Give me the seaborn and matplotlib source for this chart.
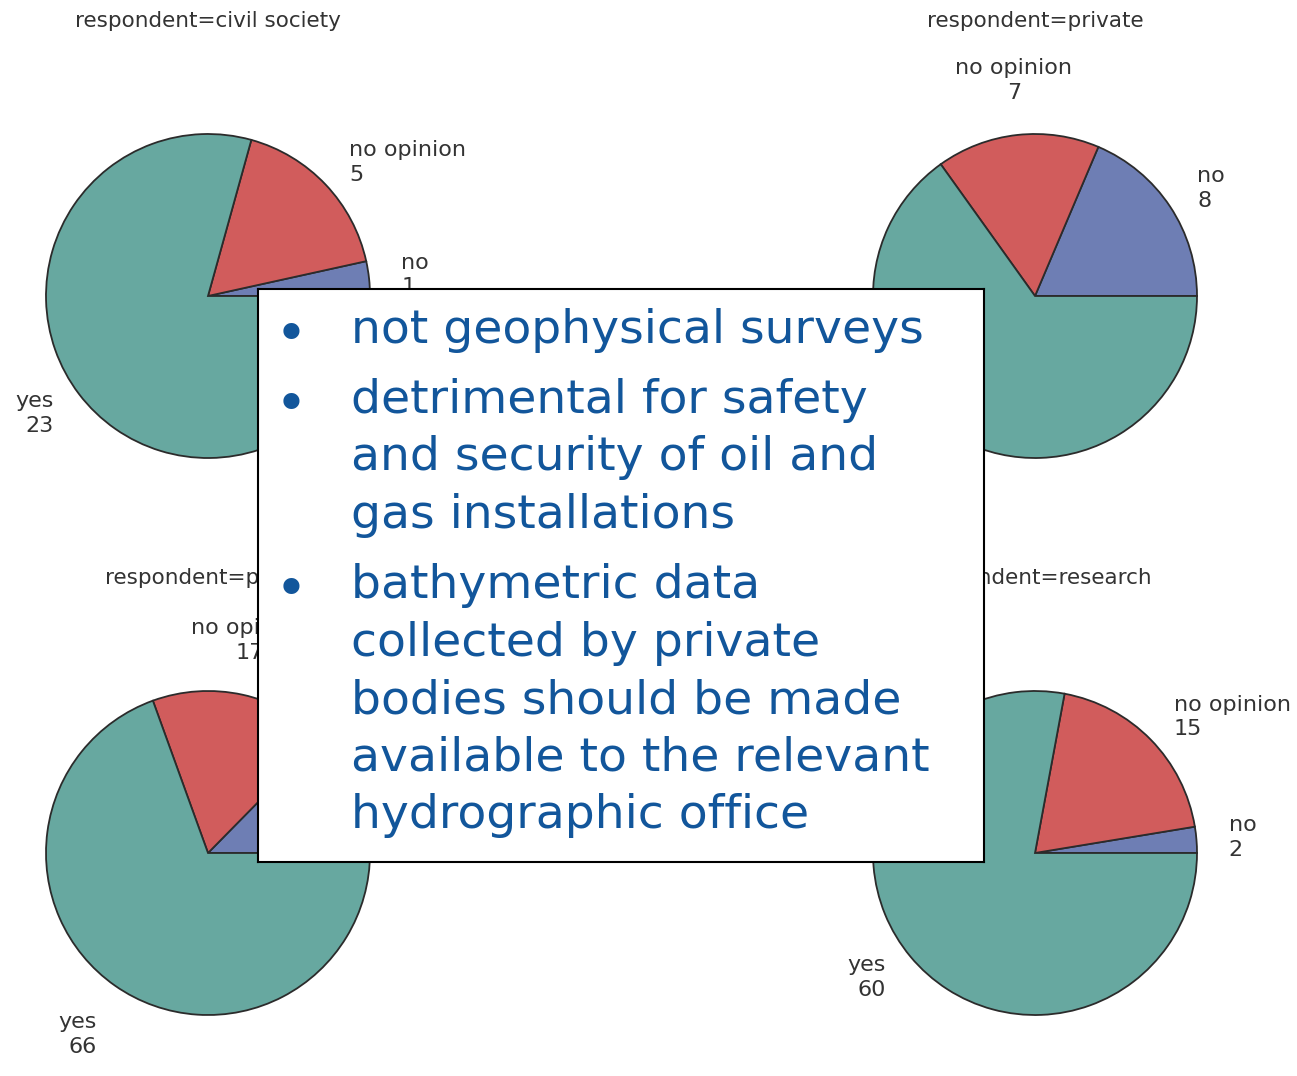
import numpy as np
import pandas as pd
import matplotlib
matplotlib.use("Agg")
import matplotlib.pyplot as plt
import seaborn as sns

# ---- data ----
respondents = ["civil society", "private", "public", "research"]
answers = ["no", "no opinion", "yes"]
no_values = [1, 8, 12, 2]
no_opinion_values = [5, 7, 17, 15]
yes_values = [23, 28, 66, 60]
answer_colors = ["#6E7EB4", "#D15C5C", "#67A8A0"]
bullets = [
    ["not geophysical surveys"],
    ["detrimental for safety", "and security of oil and", "gas installations"],
    ["bathymetric data", "collected by private", "bodies should be made",
     "available to the relevant", "hydrographic office"],
]

df = pd.DataFrame({"respondent": respondents, "no": no_values,
                   "no opinion": no_opinion_values, "yes": yes_values})

sns.set_theme(style="white")
plt.rcParams['font.family'] = ['DejaVu Sans']

W, H = 1297, 1076
fig = plt.figure(figsize=(W / 100, H / 100), dpi=100)
fig.patch.set_facecolor("white")

centers = [(208, 296), (1035, 296), (208, 853), (1035, 853)]
R = 162

for (cx, cy), (_, row) in zip(centers, df.iterrows()):
    ax = fig.add_axes([(cx - R) / W, 1 - (cy + R) / H, 2 * R / W, 2 * R / H])
    ax.set_axis_off()
    vals = [row[a] for a in answers]
    wedges, _ = ax.pie(vals, colors=answer_colors, startangle=0, counterclock=True,
                       radius=1.0, wedgeprops=dict(edgecolor="#2b2b2b", linewidth=1.3))
    ax.set_xlim(-1, 1)
    ax.set_ylim(-1, 1)
    for w, a, v in zip(wedges, answers, vals):
        mid = np.deg2rad((w.theta1 + w.theta2) / 2)
        c, s = np.cos(mid), np.sin(mid)
        x, y = 1.2 * c, 1.2 * s
        ha = "left" if c > 0.3 else ("right" if c < -0.3 else "center")
        va = "bottom" if s > 0.75 else ("top" if s < -0.75 else "center")
        ax.text(x, y, f"{a}\n{v}", ha=ha, va=va, multialignment=ha,
                fontsize=16, color="#333333", clip_on=False, linespacing=1.3)
    ax.text(0, 1.70, f"respondent={row['respondent']}", ha="center", va="center",
            fontsize=15.5, color="#333333", clip_on=False)

# overlay text box
bx0, by0, bx1, by1 = 258, 289, 984, 862
tax = fig.add_axes([bx0 / W, 1 - by1 / H, (bx1 - bx0) / W, (by1 - by0) / H])
tax.set_xlim(bx0, bx1)
tax.set_ylim(by1, by0)
tax.set_xticks([])
tax.set_yticks([])
tax.set_facecolor("white")
for sp in tax.spines.values():
    sp.set_visible(True)
    sp.set_color("black")
    sp.set_linewidth(1.5)
tax.set_zorder(10)

blue = "#12569B"
first_baselines = [343, 413, 598]
line_step = 57.5
for b0, lines in zip(first_baselines, bullets):
    tax.text(291, b0 - 6, "•", ha="center", va="center", fontsize=40, color=blue)
    for i, ln in enumerate(lines):
        tax.text(351, b0 + i * line_step, ln, ha="left", va="baseline",
                 fontsize=34, color=blue)

fig.savefig("out.png", dpi=100, facecolor="white")
